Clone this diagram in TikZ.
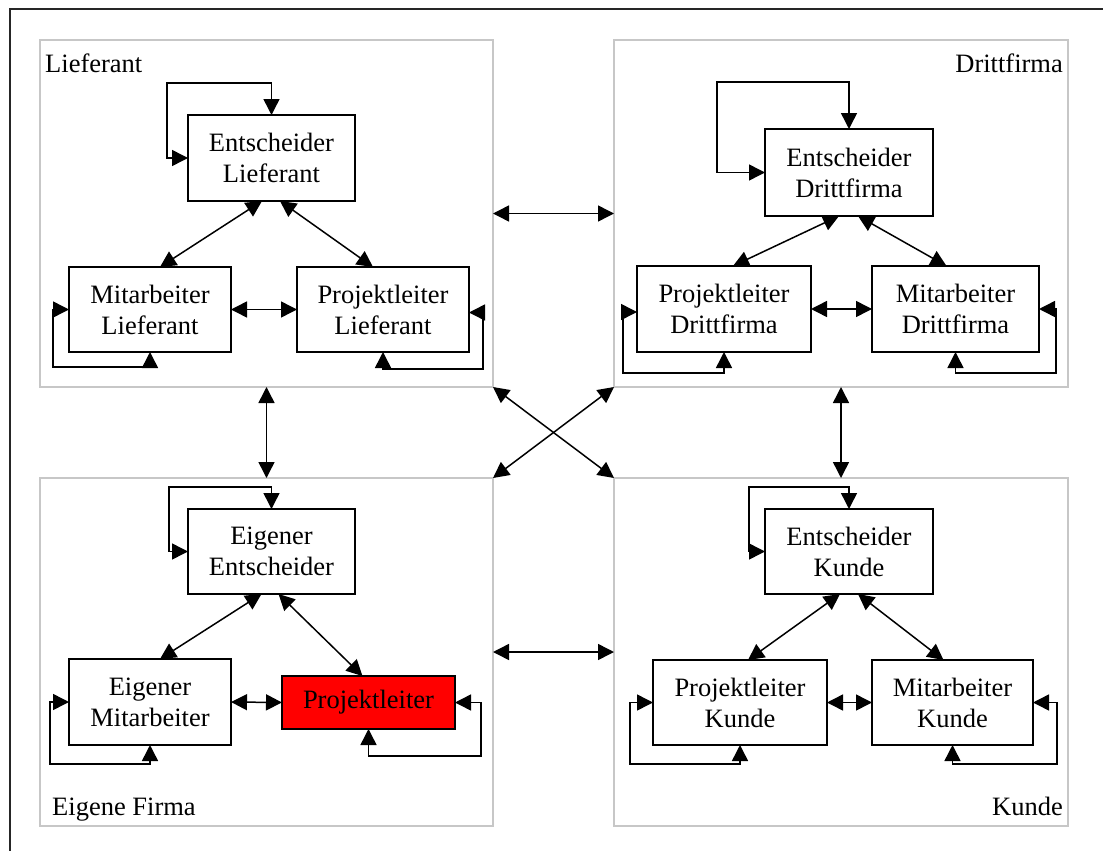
\documentclass[tikz,border=0pt]{standalone}
\usepackage{fontspec}
\setmainfont{Liberation Serif}
\usetikzlibrary{arrows.meta}

\tikzset{
  grp/.style={draw=black!22, line width=2pt, inner sep=0pt, outer sep=0pt},
  person/.style={draw, line width=1.5pt, inner sep=0pt, outer sep=0pt, align=center,
    font=\fontsize{26.5}{31}\selectfont},
  grplabel/.style={inner sep=0pt, font=\fontsize{26.5}{31}\selectfont},
  tip/.tip={Triangle[length=16pt,width=16pt]},
  link/.style={line width=1.5pt, tip-tip},
  frame/.style={line width=2pt, black!85}
}

\begin{document}
\begin{tikzpicture}[x=1pt,y=-1pt]
\useasboundingbox (0,0) rectangle (1103,851);

% outer frame (top and left edges)
\draw[frame] (9.5,851) -- (9.5,9.5) -- (1103,9.5);

% company groups
\node[grp, minimum width=453pt, minimum height=347pt] (GL) at (266.5,213.5) {};
\node[grp, minimum width=454pt, minimum height=347pt] (GD) at (841,213.5) {};
\node[grp, minimum width=453pt, minimum height=348pt] (GE) at (266.5,652) {};
\node[grp, minimum width=454pt, minimum height=348pt] (GK) at (841,652) {};

\node[grplabel, anchor=base west] (tL) at (45,73) {Lieferant};
\node[grplabel, anchor=base east] (tD) at (1063,73) {Drittfirma};
\node[grplabel, anchor=base west] (tE) at (52,815) {Eigene Firma};
\node[grplabel, anchor=base east] (tK) at (1063,815) {Kunde};

% links between the groups
\draw[link] (GL.east) -- (GD.west);
\draw[link] (GE.east) -- (GK.west);
\draw[link] (GL.south) -- (GE.north);
\draw[link] (GD.south) -- (GK.north);
\draw[link] (GL.south east) -- (GK.north west);
\draw[link] (GE.north east) -- (GD.south west);

% ---------- Lieferant ----------
\node[person, minimum width=167pt, minimum height=86pt] (EL) at (271.5,158) {Entscheider\\Lieferant};
\node[person, minimum width=162pt, minimum height=85pt] (ML) at (150,309.5) {Mitarbeiter\\Lieferant};
\node[person, minimum width=172pt, minimum height=85pt] (PL) at (383,309.5) {Projektleiter\\Lieferant};

\draw[link] ([xshift=-9.5pt]EL.south) -- ([xshift=10pt]ML.north);
\draw[link] ([xshift=8.5pt]EL.south) -- ([xshift=-10pt]PL.north);
\draw[link] (ML.east) -- (PL.west);
\draw[link] (EL.west) -- ++(-21,0) |- ([yshift=32pt]EL.north) -- (EL.north);
\draw[link] (ML.west) -- ++(-16,0) |- ([yshift=-15pt]ML.south) -- (ML.south);
\draw[link] ([yshift=-3pt]PL.east) -- ++(14,0) |- ([yshift=-17pt]PL.south) -- (PL.south);

% ---------- Drittfirma ----------
\node[person, minimum width=168pt, minimum height=87pt] (ED) at (849,172.5) {Entscheider\\Drittfirma};
\node[person, minimum width=174pt, minimum height=86pt] (PD) at (724,309) {Projektleiter\\Drittfirma};
\node[person, minimum width=167pt, minimum height=86pt] (MD) at (955.5,309) {Mitarbeiter\\Drittfirma};

\draw[link] ([xshift=-10pt]ED.south) -- ([xshift=9pt]PD.north);
\draw[link] ([xshift=9pt]ED.south) -- ([xshift=-9pt]MD.north);
\draw[link] (PD.east) -- (MD.west);
\draw[link] (ED.west) -- ++(-48,0) |- ([yshift=47pt]ED.north) -- (ED.north);
\draw[link] ([yshift=-3pt]PD.west) -- ++(-14,0) |- ([yshift=-21pt]PD.south) -- (PD.south);
\draw[link] (MD.east) -- ++(17,0) |- ([yshift=-21pt]MD.south) -- (MD.south);

% ---------- Eigene Firma ----------
\node[person, minimum width=167pt, minimum height=85pt] (EE) at (271.5,551.5) {Eigener\\Entscheider};
\node[person, minimum width=162pt, minimum height=86pt] (EM) at (150,702) {Eigener\\Mitarbeiter};
\node[person, fill=red, minimum width=173pt, minimum height=53pt] (PR) at (368.5,702.5) {Projektleiter};

\draw[link] ([xshift=-10pt]EE.south) -- ([xshift=10pt]EM.north);
\draw[link] ([xshift=7pt]EE.south) -- ([xshift=-6pt]PR.north);
\draw[link] (EM.east) -- (PR.west);
\draw[link] (EE.west) -- ++(-19,0) |- ([yshift=22pt]EE.north) -- (EE.north);
\draw[link] (EM.west) -- ++(-19,0) |- ([yshift=-19pt]EM.south) -- (EM.south);
\draw[link] (PR.east) -- ++(26,0) |- ([yshift=-27pt]PR.south) -- (PR.south);

% ---------- Kunde ----------
\node[person, minimum width=168pt, minimum height=85pt] (EK) at (849,551.5) {Entscheider\\Kunde};
\node[person, minimum width=174pt, minimum height=85pt] (PK) at (740,702.5) {Projektleiter\\Kunde};
\node[person, minimum width=161pt, minimum height=85pt] (MK) at (952.5,702.5) {Mitarbeiter\\Kunde};

\draw[link] ([xshift=-9pt]EK.south) -- ([xshift=8pt]PK.north);
\draw[link] ([xshift=9pt]EK.south) -- ([xshift=-9pt]MK.north);
\draw[link] (PK.east) -- (MK.west);
\draw[link] (EK.west) -- ++(-16,0) |- ([yshift=22pt]EK.north) -- (EK.north);
\draw[link] (PK.west) -- ++(-23,0) |- ([yshift=-19pt]PK.south) -- (PK.south);
\draw[link] (MK.east) -- ++(24,0) |- ([yshift=-19pt]MK.south) -- (MK.south);
\end{tikzpicture}
\end{document}
